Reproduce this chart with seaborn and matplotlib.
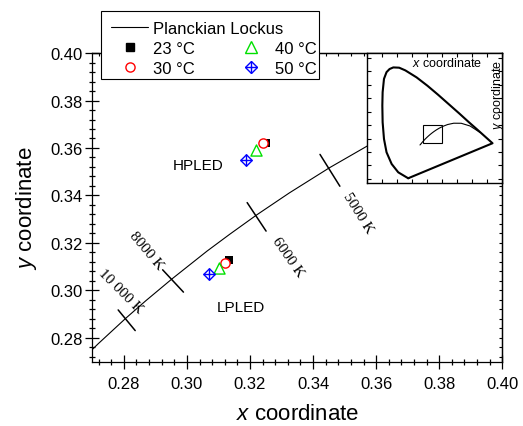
import numpy as np
import pandas as pd
import matplotlib
matplotlib.use('Agg')
import matplotlib.pyplot as plt
import seaborn as sns
from matplotlib.lines import Line2D
from matplotlib.patches import Rectangle
from matplotlib.ticker import MultipleLocator, FormatStrFormatter
from matplotlib.legend_handler import HandlerTuple

# ---------------- data ----------------
# Planckian locus (CIE 1931 x, y) at colour temperatures (K)
planck_T = [25000, 20000, 15000, 12000, 10000, 9000, 8000, 7000, 6500, 6000,
            5500, 5000, 4500, 4000, 3500, 3000, 2500, 2000, 1500, 1000]
planck_x = [0.2524, 0.2565, 0.2637, 0.2719, 0.2807, 0.2869, 0.2952, 0.3064, 0.3135, 0.3221,
            0.3325, 0.3451, 0.3608, 0.3805, 0.4053, 0.4369, 0.4770, 0.5267, 0.5857, 0.6528]
planck_y = [0.2522, 0.2570, 0.2670, 0.2776, 0.2884, 0.2956, 0.3048, 0.3166, 0.3236, 0.3318,
            0.3411, 0.3516, 0.3636, 0.3768, 0.3907, 0.4041, 0.4137, 0.4133, 0.3931, 0.3444]

# isotemperature line segments
iso_labels = ['10 000 K', '8000 K', '6000 K', '5000 K']
iso_x1 = [0.2782, 0.2923, 0.3191, 0.3422]
iso_y1 = [0.2918, 0.3087, 0.3370, 0.3573]
iso_x2 = [0.2836, 0.2989, 0.3251, 0.3485]
iso_y2 = [0.2831, 0.2993, 0.3250, 0.3439]

# measured chromaticity points
temp_labels = ['23 °C', '30 °C', '40 °C', '50 °C']
hp_x = [0.3250, 0.3241, 0.3218, 0.3188]
hp_y = [0.3620, 0.3619, 0.3591, 0.3550]
lp_x = [0.3134, 0.3120, 0.3102, 0.3071]
lp_y = [0.3128, 0.3114, 0.3096, 0.3068]

# spectral locus (inset)
spec_x = [0.174, 0.108, 0.064, 0.030, 0.013, 0.004, 0.002, 0.004, 0.013, 0.030, 0.050, 0.075,
          0.114, 0.155, 0.230, 0.302, 0.373, 0.444, 0.513, 0.575, 0.627, 0.666, 0.692, 0.735]
spec_y = [0.005, 0.049, 0.111, 0.198, 0.297, 0.421, 0.545, 0.644, 0.743, 0.793, 0.816, 0.828,
          0.826, 0.806, 0.754, 0.692, 0.625, 0.555, 0.487, 0.424, 0.373, 0.334, 0.308, 0.265]

x_ticks = [0.28, 0.30, 0.32, 0.34, 0.36, 0.38, 0.40]
y_ticks = [0.28, 0.30, 0.32, 0.34, 0.36, 0.38, 0.40]

# ---------------- style ----------------
sns.set_theme(style='ticks')
plt.rcParams['font.family'] = ['Liberation Sans', 'DejaVu Sans']
plt.rcParams['mathtext.fontset'] = 'custom'
plt.rcParams['mathtext.it'] = 'Liberation Sans:italic'
plt.rcParams['mathtext.rm'] = 'Liberation Sans'
for k in ['text.color', 'axes.labelcolor', 'xtick.color', 'ytick.color', 'axes.edgecolor']:
    plt.rcParams[k] = 'black'

GREEN = '#00e000'

fig = plt.figure(figsize=(5.23, 4.27), dpi=100)
ax = fig.add_axes([0.1765, 0.1506, 0.7839, 0.7229])

# Planckian locus
sns.lineplot(x=planck_x, y=planck_y, sort=False, estimator=None, color='black', lw=0.8, ax=ax)

# isotemperature lines
iso_df = pd.DataFrame({
    'x': iso_x1 + iso_x2,
    'y': iso_y1 + iso_y2,
    'T': iso_labels + iso_labels,
})
sns.lineplot(data=iso_df, x='x', y='y', units='T', estimator=None, sort=False,
             color='black', lw=1.1, ax=ax)

iso_label_pos = [(0.2790, 0.2997, -45), (0.2871, 0.3170, -50),
                 (0.3319, 0.3144, -55), (0.3544, 0.3328, -58)]
for lab, (tx, ty, rot) in zip(iso_labels, iso_label_pos):
    ax.text(tx, ty, lab, rotation=rot, ha='center', va='center', fontsize=11,
            family=['Liberation Serif', 'DejaVu Serif'], rotation_mode='anchor')

# measured points
pts = pd.DataFrame({
    'x': hp_x + lp_x,
    'y': hp_y + lp_y,
    'temp': temp_labels + temp_labels,
})
styles = {
    '23 °C': dict(marker='s', s=34, color='black', linewidth=0),
    '30 °C': dict(marker='o', s=44, facecolor='white', edgecolor='red', linewidth=1.0),
    '40 °C': dict(marker='^', s=64, facecolor='white', edgecolor=GREEN, linewidth=1.0),
    '50 °C': dict(marker='D', s=34, facecolor='white', edgecolor='blue', linewidth=1.0),
}
for i, t in enumerate(temp_labels):
    sub = pts[pts['temp'] == t]
    sns.scatterplot(data=sub, x='x', y='y', ax=ax, legend=False, zorder=3 + i, **styles[t])
sub = pts[pts['temp'] == '50 °C']
sns.scatterplot(data=sub, x='x', y='y', ax=ax, legend=False, zorder=7, marker='+',
                s=70, color='blue', linewidth=1.0)

ax.text(0.3117, 0.3527, 'HPLED', ha='right', va='center', fontsize=11)
ax.text(0.3170, 0.2930, 'LPLED', ha='center', va='center', fontsize=11)

# axes
ax.set_xlim(0.27, 0.40)
ax.set_ylim(0.27, 0.40)
ax.set_xticks(x_ticks)
ax.set_yticks(y_ticks)
ax.xaxis.set_major_formatter(FormatStrFormatter('%.2f'))
ax.yaxis.set_major_formatter(FormatStrFormatter('%.2f'))
ax.xaxis.set_minor_locator(MultipleLocator(0.004))
ax.yaxis.set_minor_locator(MultipleLocator(0.004))
ax.tick_params(which='major', direction='inout', length=10, width=0.9, labelsize=12)
ax.tick_params(axis='x', which='major', pad=5)
ax.tick_params(axis='y', which='major', pad=2)
ax.tick_params(which='minor', direction='inout', length=5, width=0.9)
for sp in ax.spines.values():
    sp.set_linewidth(0.9)
    sp.set_visible(True)

ax.set_xlabel('$x$ coordinate', fontsize=16, labelpad=9)
ax.set_ylabel('$y$ coordinate', fontsize=16, labelpad=8)

secx = ax.secondary_xaxis('top')
secx.set_xticks(x_ticks)
secx.xaxis.set_minor_locator(MultipleLocator(0.004))
secx.tick_params(which='both', direction='in', labeltop=False, length=2.5, width=0.8)
secx.spines['top'].set_linewidth(0.9)
secy = ax.secondary_yaxis('right')
secy.set_yticks(y_ticks)
secy.yaxis.set_minor_locator(MultipleLocator(0.004))
secy.tick_params(which='both', direction='in', labelright=False, length=2.5, width=0.8)
secy.spines['right'].set_linewidth(0.9)

# inset
axin = ax.inset_axes([0.670, 0.579, 0.330, 0.421])
axin.set_facecolor('white')
axin.set_zorder(10)
sns.lineplot(x=spec_x + [spec_x[0]], y=spec_y + [spec_y[0]], sort=False, estimator=None,
             color='black', lw=1.5, ax=axin)
sns.lineplot(x=planck_x, y=planck_y, sort=False, estimator=None, color='black', lw=0.8, ax=axin)
x0, x1 = ax.get_xlim()
y0, y1 = ax.get_ylim()
axin.add_patch(Rectangle((x0, y0), x1 - x0, y1 - y0, fill=False, ec='black', lw=0.8))
axin.set_xlim(-0.1, 0.8)
axin.set_ylim(-0.03, 0.935)
axin.xaxis.set_major_locator(MultipleLocator(0.1))
axin.yaxis.set_major_locator(MultipleLocator(0.1))
axin.tick_params(which='both', direction='in', length=3, width=0.8, top=True, right=True,
                 labelbottom=False, labelleft=False)
axin.set_xlabel('')
axin.set_ylabel('')
for sp in axin.spines.values():
    sp.set_linewidth(1.0)
    sp.set_visible(True)
axin.text(0.85, 0.975, '$x$ coordinate', transform=axin.transAxes, ha='right', va='top', fontsize=9)
axin.text(0.965, 0.955, '$y$ coordinate', transform=axin.transAxes, ha='center', va='top',
          rotation=90, fontsize=9)

# legend
W, H = 523.0, 427.0
fig.patches.append(Rectangle((100.7 / W, 1 - 80 / H), (319 - 100.7) / W, (80 - 11.7) / H,
                             transform=fig.transFigure, fc='white', ec='black', lw=0.8, zorder=3))
h_line = Line2D([], [], color='black', lw=0.8)
h23 = Line2D([], [], marker='s', ls='none', color='black', ms=5.8)
h30 = Line2D([], [], marker='o', ls='none', mec='red', mfc='white', ms=6.6, mew=1.0)
h40 = Line2D([], [], marker='^', ls='none', mec=GREEN, mfc='white', ms=8, mew=1.0)
h50a = Line2D([], [], marker='D', ls='none', mec='blue', mfc='white', ms=5.8, mew=1.0)
h50b = Line2D([], [], marker='+', ls='none', mec='blue', ms=8.4, mew=1.0)

leg1 = fig.legend([h_line], ['Planckian Lockus'], loc='upper left',
                  bbox_to_anchor=(110.7 / W, 1 - 21.5 / H), frameon=False, fontsize=12,
                  handlelength=2.26, handletextpad=0.3, borderpad=0, borderaxespad=0)
leg2 = fig.legend([h23, h30, h40, (h50a, h50b)], temp_labels[:2] + temp_labels[2:],
                  loc='upper left', ncol=2, bbox_to_anchor=(110.7 / W, 1 - 41.5 / H),
                  frameon=False, fontsize=12, handlelength=2.26, handletextpad=0.3,
                  columnspacing=2.2, labelspacing=0.33, borderpad=0, borderaxespad=0,
                  handler_map={tuple: HandlerTuple(ndivide=1, pad=0)})
leg1.set_zorder(6)
leg2.set_zorder(6)

fig.savefig('out.png', dpi=100)
